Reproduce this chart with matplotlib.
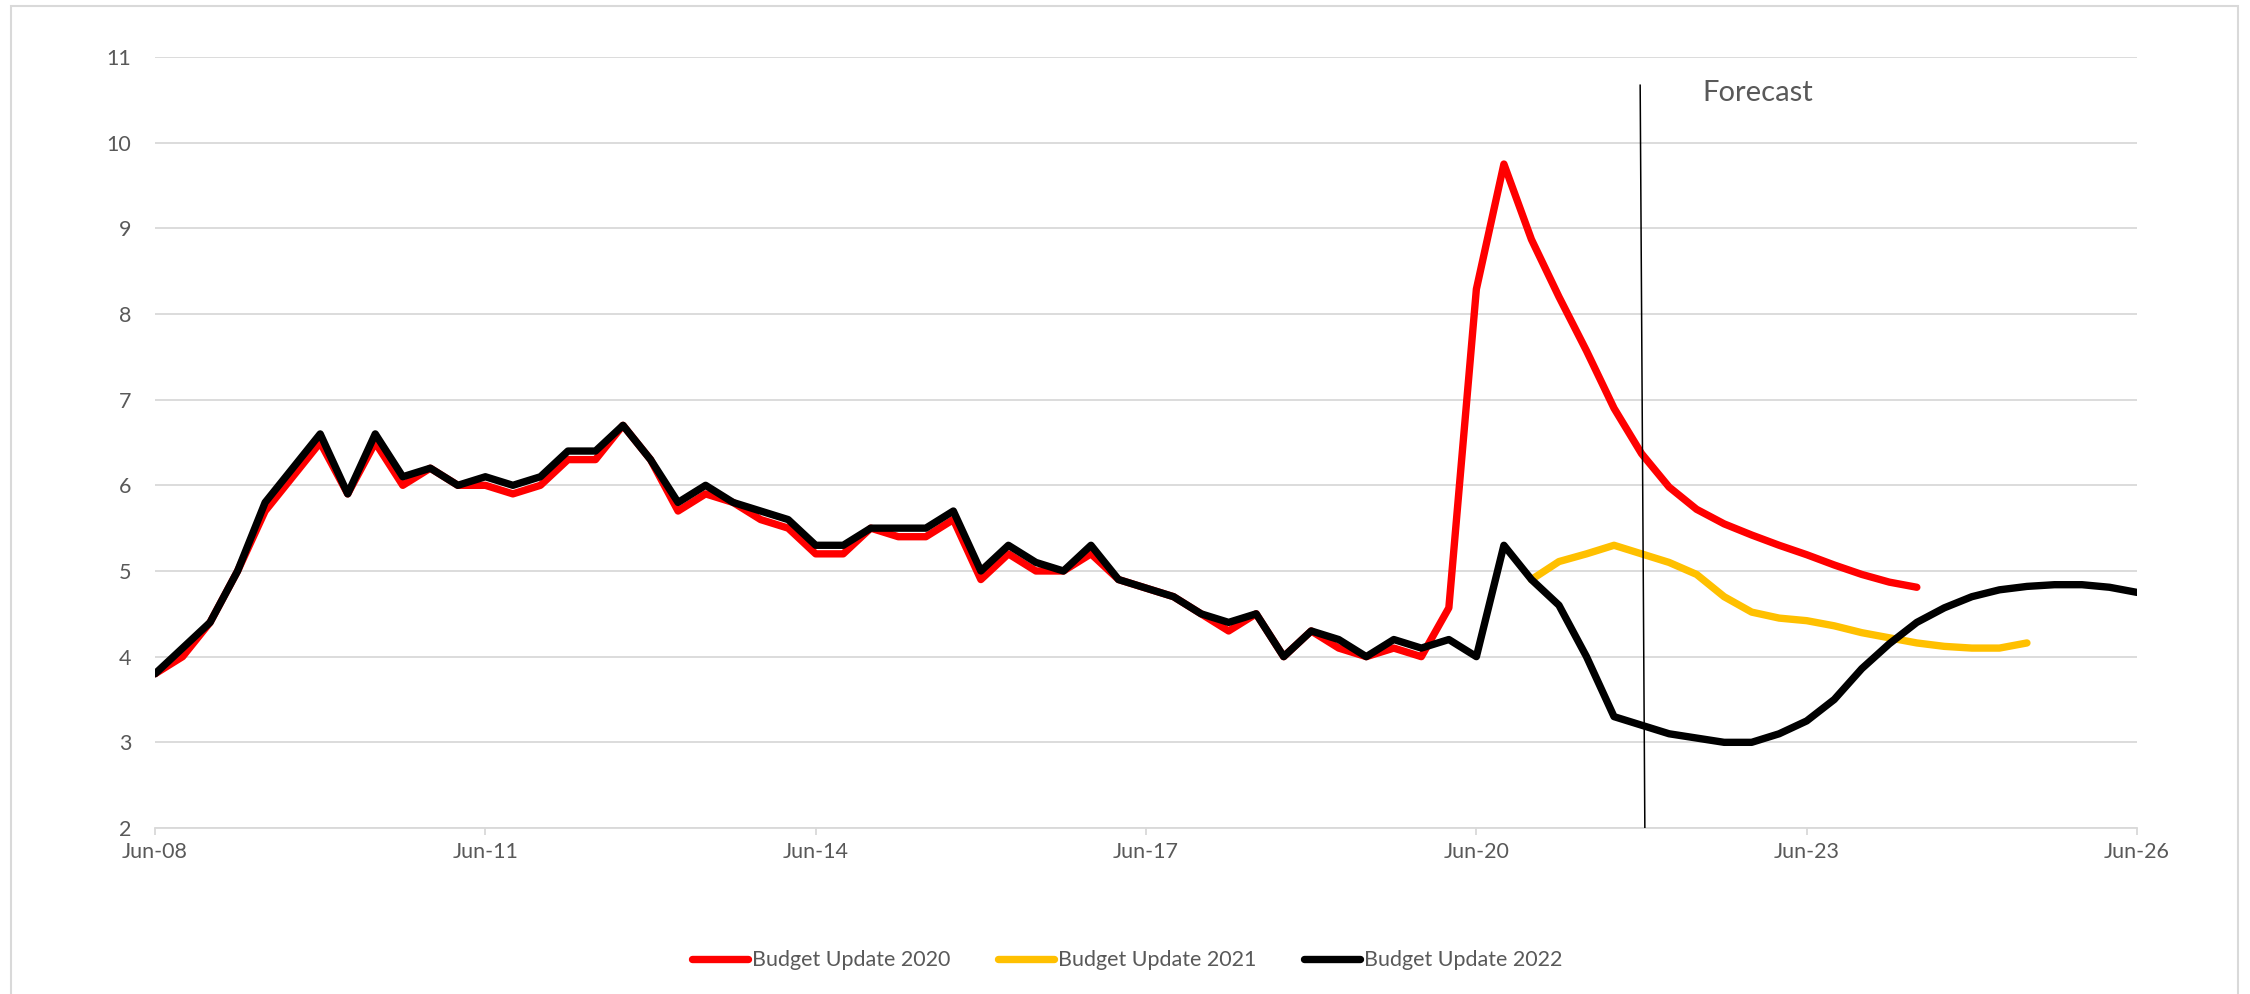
import matplotlib
matplotlib.use("Agg")
import matplotlib.pyplot as plt
from matplotlib.patches import Rectangle
import numpy as np
import pandas as pd

plt.rcParams['font.family'] = ['Lato', 'DejaVu Sans']

# Quarterly periods, Jun-08 to Jun-26
quarters = pd.period_range('2008Q2', '2026Q2', freq='Q')

budget_2020 = [3.8, 4.0, 4.4, 5.0, 5.7, 6.1, 6.5, 5.9, 6.5, 6.0, 6.2, 6.0, 6.0, 5.9, 6.0, 6.3,
               6.3, 6.7, 6.3, 5.7, 5.9, 5.8, 5.6, 5.5, 5.2, 5.2, 5.5, 5.4, 5.4, 5.6, 4.9, 5.2,
               5.0, 5.0, 5.2, 4.9, 4.8, 4.7, 4.5, 4.3, 4.5, 4.0, 4.3, 4.1, 4.0, 4.1, 4.0, 4.57,
               8.29, 9.75, 8.87, 8.2, 7.57, 6.9, 6.37, 5.98, 5.72, 5.55, 5.42, 5.30, 5.19, 5.07,
               4.96, 4.87, 4.81]

# 2021 update, shown from Dec-20 onwards
budget_2021_start = 50
budget_2021 = [4.9, 5.11, 5.2, 5.3, 5.2, 5.1, 4.96, 4.7, 4.52, 4.45, 4.42, 4.36, 4.28, 4.22,
               4.16, 4.12, 4.1, 4.1, 4.16]

budget_2022 = [3.8, 4.1, 4.4, 5.0, 5.8, 6.2, 6.6, 5.9, 6.6, 6.1, 6.2, 6.0, 6.1, 6.0, 6.1, 6.4,
               6.4, 6.7, 6.3, 5.8, 6.0, 5.8, 5.7, 5.6, 5.3, 5.3, 5.5, 5.5, 5.5, 5.7, 5.0, 5.3,
               5.1, 5.0, 5.3, 4.9, 4.8, 4.7, 4.5, 4.4, 4.5, 4.0, 4.3, 4.2, 4.0, 4.2, 4.1, 4.2,
               4.0, 5.3, 4.9, 4.6, 4.0, 3.3, 3.2, 3.1, 3.05, 3.0, 3.0, 3.1, 3.25, 3.5, 3.86, 4.15,
               4.4, 4.57, 4.7, 4.78, 4.82, 4.84, 4.84, 4.81, 4.75]

# Forecast marker line (quarter index, value) at top and bottom
forecast_x = [53.95, 54.12]
forecast_y = [10.67, 2.0]

grid_col = '#d9d9d9'
text_col = '#595959'

fig = plt.figure(figsize=(22.5, 9.94), dpi=100)
ax = fig.add_axes([0.0689, 0.167, 0.8809, 0.7757])

x = np.arange(len(quarters))
line_kw = dict(lw=5.3, solid_capstyle='round', solid_joinstyle='round')
ax.plot(x[:len(budget_2020)], budget_2020, color='#ff0000', label='Budget Update 2020', **line_kw)
x21 = x[budget_2021_start:budget_2021_start + len(budget_2021)]
ax.plot(x21, budget_2021, color='#ffc000', label='Budget Update 2021', **line_kw)
ax.plot(x[:len(budget_2022)], budget_2022, color='#000000', label='Budget Update 2022', **line_kw)

ax.plot(forecast_x, forecast_y, color='black', lw=1.1, zorder=5)
ax.text(56.2, 10.49, 'Forecast', fontsize=21, color=text_col, ha='left', va='baseline')

ax.set_xlim(0, len(quarters) - 1)
ax.set_ylim(2, 11)
ax.set_yticks(range(2, 12))
tick_pos = x[::12]
ax.set_xticks(tick_pos)
ax.set_xticklabels([q.strftime('%b-%y') for q in quarters[::12]])

ax.grid(axis='y', color=grid_col, lw=1.3)
ax.set_axisbelow(True)
for side in ['top', 'right', 'left']:
    ax.spines[side].set_visible(False)
ax.spines['bottom'].set_color(grid_col)
ax.spines['bottom'].set_linewidth(1.3)
ax.tick_params(axis='x', colors=text_col, labelsize=15.5, length=5, width=1.3,
               color=grid_col, pad=5)
ax.tick_params(axis='y', colors=text_col, labelsize=15.5, length=0, pad=17)

fig.legend(loc='center', bbox_to_anchor=(0.501, 0.034), ncol=3, frameon=False,
           fontsize=15.5, handlelength=2.6, handletextpad=0.2, columnspacing=2.2,
           labelcolor=text_col)

# light outer frame around the chart area
fig.patches.append(Rectangle((0.0049, -0.02), 0.9898, 1.014, transform=fig.transFigure,
                             fill=False, edgecolor=grid_col, lw=1.5))

fig.savefig('out.png', dpi=100)
